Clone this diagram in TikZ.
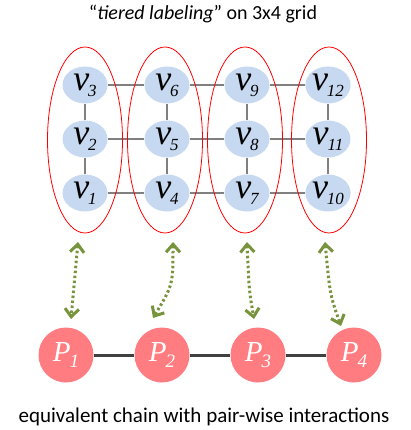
\documentclass[tikz,border=0pt]{standalone}
\usepackage{fontspec}
\setmainfont{Carlito}
\newfontfamily\tms{Liberation Serif}
\usetikzlibrary{shapes.geometric,arrows.meta,backgrounds}
\definecolor{vblue}{HTML}{C6D9F0}
\definecolor{pred}{HTML}{FF7C80}
\definecolor{agreen}{HTML}{77933C}
\definecolor{gline}{HTML}{808080}
\definecolor{chain}{HTML}{404040}
\newcommand{\vlab}[1]{{\tms\itshape\fontsize{36}{36}\selectfont v\kern-1pt\raisebox{-6pt}{\fontsize{17}{17}\selectfont #1}}}
\newcommand{\plab}[1]{{\tms\itshape\fontsize{29}{29}\selectfont P\kern-1pt\raisebox{-6pt}{\fontsize{19}{19}\selectfont #1}}}
\tikzset{
  vnode/.style={ellipse,fill=vblue,minimum width=45pt,minimum height=37pt,inner sep=0pt},
  grp/.style={ellipse,draw=red,line width=0.8pt,minimum width=75pt,minimum height=186pt,inner sep=0pt},
  pnode/.style={circle,fill=pred,minimum size=55pt,inner sep=0pt,text=white},
  gridl/.style={gline,line width=1.7pt},
  chainl/.style={chain,line width=3pt},
  link/.style={agreen,line width=3pt,dash pattern=on 2.5pt off 2.5pt,{Straight Barb[length=8pt,width=14pt,line width=3pt]}-{Straight Barb[length=8pt,width=14pt,line width=3pt]}},
  lbl/.style={font=\fontsize{21}{21}\selectfont,text=black}
}
\begin{document}
\begin{tikzpicture}[x=1pt,y=-1pt]
\useasboundingbox (0,0) rectangle (411,430);
\node[lbl,font=\fontsize{20}{20}\selectfont] (title) at (203,14) {“\textit{tiered labeling}” on 3x4 grid};
% v nodes
\node[vnode] (v1) at (85,193) {\vlab{1}};
\node[vnode] (v2) at (85,139) {\vlab{2}};
\node[vnode] (v3) at (85,85) {\vlab{3}};
\node[vnode] (v4) at (167,193) {\vlab{4}};
\node[vnode] (v5) at (167,139) {\vlab{5}};
\node[vnode] (v6) at (167,85) {\vlab{6}};
\node[vnode] (v7) at (247,193) {\vlab{7}};
\node[vnode] (v8) at (247,139) {\vlab{8}};
\node[vnode] (v9) at (247,85) {\vlab{9}};
\node[vnode] (v10) at (328,193) {\vlab{10}};
\node[vnode] (v11) at (328,139) {\vlab{11}};
\node[vnode] (v12) at (328,85) {\vlab{12}};
\begin{pgfonlayer}{background}
\foreach \a/\b in {v1/v2,v2/v3,v4/v5,v5/v6,v7/v8,v8/v9,v10/v11,v11/v12,
  v1/v4,v4/v7,v7/v10,v2/v5,v5/v8,v8/v11,v3/v6,v6/v9,v9/v12}
  \draw[gridl] (\a) -- (\b);
\end{pgfonlayer}
% groups
\node[grp] (g1) at (85,140) {};
\node[grp] (g2) at (165,140) {};
\node[grp] (g3) at (245,140) {};
\node[grp] (g4) at (329,140) {};
% P nodes
\node[pnode] (p1) at (66,355) {\plab{1}};
\node[pnode] (p2) at (162,355) {\plab{2}};
\node[pnode] (p3) at (258,355) {\plab{3}};
\node[pnode] (p4) at (354,355) {\plab{4}};
\begin{pgfonlayer}{background}
\draw[chainl] (p1) -- (p2);
\draw[chainl] (p2) -- (p3);
\draw[chainl] (p3) -- (p4);
\end{pgfonlayer}
% arrow ends
\coordinate (a1t) at (78,242); \coordinate (a1b) at (71,319);
\coordinate (a2t) at (173,242); \coordinate (a2b) at (153,318);
\coordinate (a3t) at (247,242); \coordinate (a3b) at (254,319);
\coordinate (a4t) at (325,242); \coordinate (a4b) at (341,326);
\draw[link] (a1t) -- (a1b);
\draw[link] (a2t) .. controls (173,285) .. (a2b);
\draw[link] (a3t) .. controls (249,290) .. (a3b);
\draw[link] (a4t) .. controls (330,295) .. (a4b);
\node[lbl] (cap) at (204,417) {equivalent chain with pair-wise interactions};
\end{tikzpicture}
\end{document}
